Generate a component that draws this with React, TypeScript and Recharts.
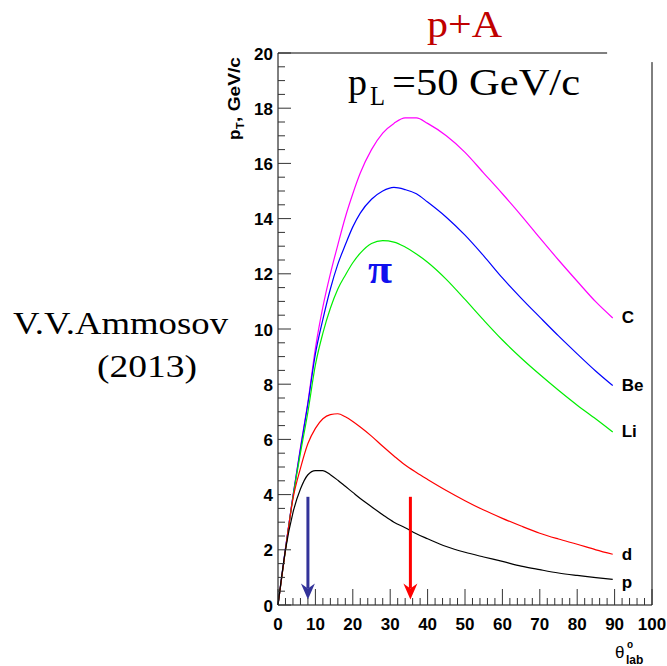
import { LineChart, Line, XAxis, YAxis, ReferenceLine } from 'recharts';

// emission angle in the lab frame, degrees
const angles = [0, 2, 4, 6, 8, 10, 12, 14, 16, 18, 20, 22, 25, 28, 31, 34, 37, 40, 45, 50, 55, 60, 65, 70, 75, 80, 85, 89.5];

// pT (GeV/c) per fragment
const ptC = [0, 2.05, 3.95, 5.7, 7.35, 9.3, 10.8, 12.0, 13.05, 14.05, 14.9, 15.65, 16.5, 17.1, 17.45, 17.65, 17.65, 17.45, 17.0, 16.4, 15.65, 14.9, 14.12, 13.3, 12.5, 11.73, 10.98, 10.4];
const ptBe = [0, 2.05, 3.95, 5.65, 7.3, 9.1, 10.35, 11.45, 12.35, 13.05, 13.7, 14.2, 14.7, 15.0, 15.13, 15.05, 14.9, 14.6, 14.05, 13.4, 12.65, 11.85, 11.12, 10.43, 9.75, 9.1, 8.47, 7.95];
const ptLi = [0, 2.0, 3.9, 5.5, 7.0, 8.7, 9.85, 10.75, 11.45, 11.95, 12.4, 12.75, 13.1, 13.2, 13.15, 12.97, 12.72, 12.42, 11.8, 11.07, 10.32, 9.6, 8.95, 8.35, 7.78, 7.24, 6.74, 6.27];
const ptD = [0, 2.0, 3.85, 4.95, 5.85, 6.4, 6.75, 6.9, 6.93, 6.82, 6.65, 6.45, 6.12, 5.75, 5.4, 5.07, 4.8, 4.55, 4.15, 3.78, 3.44, 3.14, 2.86, 2.6, 2.39, 2.2, 2.0, 1.84];
const ptP = [0, 2.0, 3.35, 4.2, 4.72, 4.87, 4.87, 4.72, 4.52, 4.3, 4.08, 3.86, 3.56, 3.27, 3.0, 2.8, 2.58, 2.4, 2.12, 1.91, 1.74, 1.58, 1.41, 1.28, 1.16, 1.07, 0.99, 0.93];

const seriesNames = ['C', 'Be', 'Li', 'd', 'p'];
const seriesColors = ['#ff00ff', '#0000ff', '#00ee00', '#ff0000', '#000000'];
const seriesValues = [ptC, ptBe, ptLi, ptD, ptP];

// arrows: angle, top and bottom of the shaft
const arrowAngles = [8.0, 35.4];
const arrowColors = ['#333399', '#ff0000'];
const arrowTop = 3.92;
const arrowBottom = 0.6;

const xTicks = [0, 2, 4, 6, 8, 10, 12, 14, 16, 18, 20, 22, 24, 26, 28, 30, 32, 34, 36, 38, 40, 42, 44, 46, 48, 50, 52, 54, 56, 58, 60, 62, 64, 66, 68, 70, 72, 74, 76, 78, 80, 82, 84, 86, 88, 90, 92, 94, 96, 98, 100];
const yTicks = [0, 0.5, 1, 1.5, 2, 2.5, 3, 3.5, 4, 4.5, 5, 5.5, 6, 6.5, 7, 7.5, 8, 8.5, 9, 9.5, 10, 10.5, 11, 11.5, 12, 12.5, 13, 13.5, 14, 14.5, 15, 15.5, 16, 16.5, 17, 17.5, 18, 18.5, 19, 19.5, 20];

const data = angles.map((theta, i) => {
  const row: Record<string, number> = { theta };
  seriesNames.forEach((name, s) => {
    row[name] = seriesValues[s][i];
  });
  return row;
});

const SANS = '"Liberation Sans", Arial, sans-serif';
const SERIF = '"Liberation Serif", "Times New Roman", serif';

function XTick(props: any) {
  const { x, y, payload } = props;
  const v = payload.value;
  const major = v % 10 === 0;
  return (
    <g>
      <line x1={x} x2={x} y1={y} y2={y - (major ? 16 : 7)} stroke="#333" strokeWidth={1} />
      {major && (
        <text x={x} y={y + 19} textAnchor="middle" dominantBaseline="central" fontFamily={SANS} fontWeight="bold" fontSize={17} fill="#000">
          {v}
        </text>
      )}
    </g>
  );
}

function YTick(props: any) {
  const { x, y, payload } = props;
  const v = payload.value;
  const major = v % 2 === 0;
  return (
    <g>
      <line x1={x} x2={x + (major ? 13 : 7)} y1={y} y2={y} stroke="#333" strokeWidth={1} />
      {major && (
        <text x={x - 5} y={y + 1} textAnchor="end" dominantBaseline="central" fontFamily={SANS} fontWeight="bold" fontSize={17} fill="#000">
          {v}
        </text>
      )}
    </g>
  );
}

function endLabel(name: string) {
  return (props: any) => {
    if (props.index !== angles.length - 1) return null;
    return (
      <text
        key={name}
        x={props.x + 9}
        y={props.y + (name === 'p' ? 3 : 0)}
        dominantBaseline="central"
        fontFamily={SANS}
        fontWeight="bold"
        fontSize={17}
        fill="#000"
      >
        {name}
      </text>
    );
  };
}

function arrowHead(color: string) {
  return (props: any) => {
    const { cx, cy, index } = props;
    if (index !== 1) return <g key={`a${index}`} />;
    return (
      <polygon
        key={`a${index}`}
        points={`${cx},${cy + 11} ${cx - 7},${cy - 5} ${cx},${cy} ${cx + 7},${cy - 5}`}
        fill={color}
      />
    );
  };
}

export default function App() {
  return (
    <div style={{ position: 'absolute', left: 0, top: 0, width: 667, height: 666, background: '#fff' }}>
      <LineChart width={667} height={666} data={data} margin={{ top: 53, right: 15, bottom: 0, left: 0 }}>
        <XAxis
          type="number"
          dataKey="theta"
          domain={[0, 100]}
          ticks={xTicks}
          interval={0}
          tickSize={0}
          tickMargin={0}
          tickLine={false}
          tick={XTick}
          axisLine={{ stroke: '#000', strokeWidth: 1 }}
          height={61}
        />
        <YAxis
          type="number"
          domain={[0, 20]}
          ticks={yTicks}
          interval={0}
          tickSize={0}
          tickMargin={0}
          tickLine={false}
          tick={YTick}
          axisLine={{ stroke: '#000', strokeWidth: 1 }}
          width={278}
        />
        <ReferenceLine segment={[{ x: 0, y: 20 }, { x: 88, y: 20 }]} stroke="#000" strokeWidth={1} />
        <ReferenceLine segment={[{ x: 100, y: 0 }, { x: 100, y: 19.67 }]} stroke="#000" strokeWidth={1} />
        {seriesNames.map((name, s) => (
          <Line
            key={name}
            type="monotone"
            dataKey={name}
            stroke={seriesColors[s]}
            strokeWidth={1.2}
            dot={false}
            activeDot={false}
            label={endLabel(name)}
            isAnimationActive={false}
          />
        ))}
        {arrowAngles.map((theta, a) => (
          <Line
            key={`arrow${a}`}
            data={[
              { theta, pt: arrowTop },
              { theta, pt: arrowBottom },
            ]}
            dataKey="pt"
            stroke={arrowColors[a]}
            strokeWidth={3}
            dot={arrowHead(arrowColors[a])}
            activeDot={false}
            isAnimationActive={false}
          />
        ))}
      </LineChart>
      <svg width={667} height={666} style={{ position: 'absolute', left: 0, top: 0, pointerEvents: 'none' }}>
        <text x={427} y={37} fontFamily={SERIF} fontSize={37} fill="#c00000" textLength={75} lengthAdjust="spacingAndGlyphs">
          p+A
        </text>
        <text x={348} y={95} fontFamily={SERIF} fontSize={37} fill="#000" textLength={19} lengthAdjust="spacingAndGlyphs">
          p
        </text>
        <text x={370} y={105} fontFamily={SERIF} fontSize={27} fill="#000" textLength={15} lengthAdjust="spacingAndGlyphs">
          L
        </text>
        <text x={392} y={95} fontFamily={SERIF} fontSize={37} fill="#000" textLength={188} lengthAdjust="spacingAndGlyphs">
          =50 GeV/c
        </text>
        <text x={13} y={334} fontFamily={SERIF} fontSize={32} fill="#000" textLength={215} lengthAdjust="spacingAndGlyphs">
          V.V.Ammosov
        </text>
        <text x={97} y={377} fontFamily={SERIF} fontSize={32} fill="#000" textLength={100} lengthAdjust="spacingAndGlyphs">
          (2013)
        </text>
        <text x={368} y={283} fontFamily={SERIF} fontWeight="bold" fontSize={40} fill="#1010ee" textLength={24} lengthAdjust="spacingAndGlyphs">
          π
        </text>
        <g transform="translate(240,140) rotate(-90)">
          <text x={0} y={0} fontFamily={SANS} fontWeight="bold" fontSize={17} fill="#000">
            p
          </text>
          <text x={11} y={4} fontFamily={SANS} fontWeight="bold" fontSize={11} fill="#000">
            T
          </text>
          <text x={18} y={0} fontFamily={SANS} fontWeight="bold" fontSize={17} fill="#000" textLength={65} lengthAdjust="spacingAndGlyphs">
            , GeV/c
          </text>
        </g>
        <text x={615} y={658} fontFamily={SANS} fontSize={17} fill="#000">
          θ
        </text>
        <text x={627} y={648} fontFamily={SANS} fontWeight="bold" fontSize={10} fill="#000">
          o
        </text>
        <text x={626} y={664} fontFamily={SANS} fontWeight="bold" fontSize={12} fill="#000">
          lab
        </text>
      </svg>
    </div>
  );
}
